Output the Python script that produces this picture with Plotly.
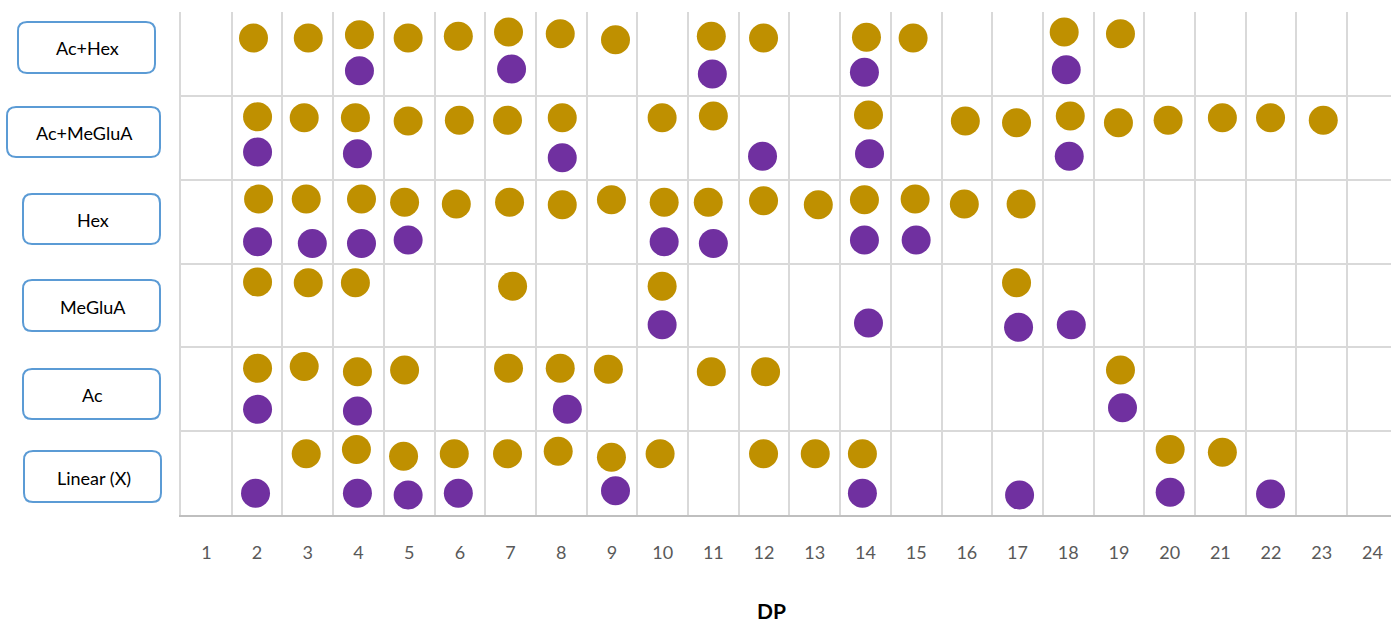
import plotly.graph_objects as go

# ---------------- data ----------------
row_labels = ["Linear (X)", "Ac", "MeGluA", "Hex", "Ac+MeGluA", "Ac+Hex"]  # bottom -> top
dp_ticks = list(range(1, 25))

gold_dp = [1.93, 3.01, 4.02, 4.98, 5.97, 6.96, 7.98, 9.07, 10.96, 11.99, 14.02, 14.94, 17.92, 19.03,
           2.01, 2.93, 3.94, 4.98, 5.99, 6.94, 8.02, 9.99, 11.00, 14.06, 15.97, 16.98, 18.04, 18.99, 19.97, 21.04, 21.99, 23.03,
           2.03, 2.97, 4.06, 4.91, 5.93, 6.98, 8.02, 8.99, 10.03, 10.90, 11.99, 13.07, 13.98, 14.98, 15.95, 17.07,
           2.01, 3.01, 3.94, 7.04, 9.99, 16.98,
           2.01, 2.93, 3.98, 4.91, 6.96, 7.98, 8.93, 10.96, 12.03, 19.03,
           2.97, 3.96, 4.89, 5.89, 6.94, 7.94, 8.99, 9.95, 11.99, 13.01, 13.94, 20.01, 21.04]
gold_y = [5.69, 5.69, 5.73, 5.69, 5.71, 5.76, 5.74, 5.67, 5.71, 5.69, 5.70, 5.69, 5.76, 5.74,
          4.75, 4.74, 4.74, 4.70, 4.71, 4.71, 4.74, 4.74, 4.76, 4.77, 4.70, 4.68, 4.76, 4.68, 4.71, 4.74, 4.74, 4.71,
          3.77, 3.77, 3.77, 3.73, 3.71, 3.73, 3.70, 3.76, 3.73, 3.73, 3.75, 3.70, 3.76, 3.77, 3.71, 3.71,
          2.78, 2.77, 2.77, 2.73, 2.73, 2.77,
          1.75, 1.77, 1.71, 1.73, 1.75, 1.75, 1.74, 1.71, 1.71, 1.73,
          0.73, 0.78, 0.70, 0.73, 0.73, 0.76, 0.69, 0.73, 0.73, 0.73, 0.73, 0.78, 0.75]

purple_dp = [4.02, 7.02, 10.98, 13.98, 17.96,
             2.01, 3.98, 8.02, 11.97, 14.08, 18.02,
             2.01, 3.09, 4.06, 4.98, 10.03, 11.00, 13.98, 15.00,
             9.99, 14.06, 17.02, 18.06,
             2.01, 3.98, 8.12, 19.07,
             1.97, 3.98, 4.98, 5.97, 9.07, 13.94, 17.04, 20.01, 21.99]
purple_y = [5.30, 5.32, 5.26, 5.28, 5.31,
            4.33, 4.31, 4.26, 4.28, 4.31, 4.28,
            3.26, 3.24, 3.24, 3.28, 3.26, 3.24, 3.28, 3.28,
            2.27, 2.29, 2.24, 2.27,
            1.26, 1.24, 1.26, 1.28,
            0.26, 0.26, 0.24, 0.26, 0.29, 0.26, 0.24, 0.27, 0.25]

# ---------------- figure ----------------
W, H = 1391, 624
L, R, T, B = 181, 0, 12, 109
PW, PH = W - L - R, H - T - B
FONT = "Lato, Carlito, Calibri, sans-serif"

fig = go.Figure()
fig.add_trace(go.Scatter(x=gold_dp, y=gold_y, mode="markers",
                         marker=dict(size=29, color="#BF9000", line=dict(width=0)),
                         showlegend=False, cliponaxis=False))
fig.add_trace(go.Scatter(x=purple_dp, y=purple_y, mode="markers",
                         marker=dict(size=29, color="#7030A0", line=dict(width=0)),
                         showlegend=False, cliponaxis=False))


def px2paper(x, y):
    return (x - L) / PW, (H - B - y) / PH


def rounded_path(x0, y0, x1, y1, r=9):
    def P(x, y):
        a, b = px2paper(x, y)
        return f"{a:.5f},{b:.5f}"
    return (f"M {P(x0 + r, y0)} L {P(x1 - r, y0)} Q {P(x1, y0)} {P(x1, y0 + r)} "
            f"L {P(x1, y1 - r)} Q {P(x1, y1)} {P(x1 - r, y1)} "
            f"L {P(x0 + r, y1)} Q {P(x0, y1)} {P(x0, y1 - r)} "
            f"L {P(x0, y0 + r)} Q {P(x0, y0)} {P(x0 + r, y0)} Z")


boxes = [  # label, x0, y0, x1, y1 (pixels)
    ("Ac+Hex", 18, 22, 155, 73),
    ("Ac+MeGluA", 7, 107, 160, 157),
    ("Hex", 23, 194, 160, 244),
    ("MeGluA", 23, 280, 160, 331),
    ("Ac", 23, 369, 160, 419),
    ("Linear (X)", 24, 451, 161, 502),
]
shapes = []
annotations = []
for lab, x0, y0, x1, y1 in boxes:
    shapes.append(dict(type="path", xref="paper", yref="paper",
                       path=rounded_path(x0, y0, x1, y1),
                       line=dict(color="#5B9BD5", width=2), fillcolor="white", layer="above"))
    cx, cy = px2paper((x0 + x1) / 2 + 1, (y0 + y1) / 2 + 1)
    annotations.append(dict(text=lab, xref="paper", yref="paper", x=cx, y=cy,
                            showarrow=False, xanchor="center", yanchor="middle",
                            font=dict(family=FONT, size=18, color="#000000")))

tx, ty = px2paper(771, 610)
annotations.append(dict(text="<b>DP</b>", xref="paper", yref="paper", x=tx, y=ty,
                        showarrow=False, xanchor="center", yanchor="middle",
                        font=dict(family=FONT, size=21, color="#000000")))

x_end = 0.5 + PW / 50.7

fig.update_layout(
    width=W, height=H,
    margin=dict(l=L, r=R, t=T, b=B),
    plot_bgcolor="white", paper_bgcolor="white",
    shapes=shapes, annotations=annotations,
    xaxis=dict(range=[0.5, x_end], tickmode="array", tickvals=dp_ticks,
               ticktext=[str(v) for v in dp_ticks], showgrid=False, zeroline=False,
               ticks="", ticklabelstandoff=20,
               tickfont=dict(family=FONT, size=18, color="#595959"),
               minor=dict(tickmode="array", tickvals=[v + 0.5 for v in range(0, 25)],
                          showgrid=True, gridcolor="#D9D9D9", gridwidth=1.5, ticks=""),
               showline=True, linecolor="#BFBFBF", linewidth=2, mirror=False, fixedrange=True),
    yaxis=dict(range=[0, 6], tickmode="array", tickvals=list(range(0, 7)),
               showticklabels=False, showgrid=True, gridcolor="#D9D9D9", gridwidth=1.5,
               zeroline=False, ticks="", showline=True, linecolor="#D9D9D9", linewidth=1.5,
               fixedrange=True),
)

fig.write_html("out.html", config={"displayModeBar": False},
               post_script="document.body.style.margin='0';document.body.style.overflow='hidden';")
